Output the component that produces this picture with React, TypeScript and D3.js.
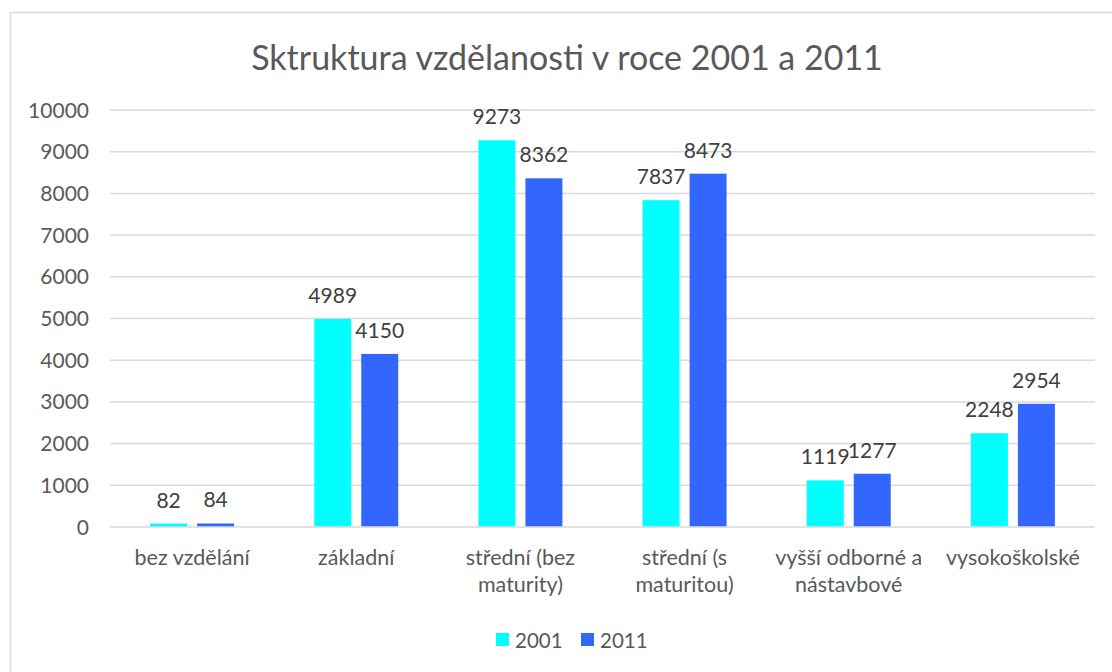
import React, { useEffect, useRef } from "react";
import * as d3 from "d3";

const categories = [
  "bez vzdělání",
  "základní",
  "střední (bez maturity)",
  "střední (s maturitou)",
  "vyšší odborné a nástavbové",
  "vysokoškolské",
];
const seriesNames = ["2001", "2011"];
const values2001 = [82, 4989, 9273, 7837, 1119, 2248];
const values2011 = [84, 4150, 8362, 8473, 1277, 2954];
const yTicks = [0, 1000, 2000, 3000, 4000, 5000, 6000, 7000, 8000, 9000, 10000];
const colors = ["#00FFFF", "#3366FF"];

const title = "Sktruktura vzdělanosti v roce 2001 a 2011";
const FONT = "Lato, 'Open Sans', sans-serif";
const TEXT = "#595959";

function wrap(sel: any, width: number) {
  sel.each(function (this: SVGTextElement) {
    const text = d3.select(this);
    const words = text.text().split(/\s+/);
    const x = text.attr("x");
    const y = text.attr("y");
    text.text(null);
    let line: string[] = [];
    let lineNo = 0;
    let tspan = text.append("tspan").attr("x", x).attr("y", y);
    words.forEach((w) => {
      line.push(w);
      tspan.text(line.join(" "));
      if ((tspan.node() as SVGTSpanElement).getComputedTextLength() > width && line.length > 1) {
        line.pop();
        tspan.text(line.join(" "));
        line = [w];
        lineNo++;
        tspan = text
          .append("tspan")
          .attr("x", x)
          .attr("y", +y + lineNo * 27)
          .text(w);
      }
    });
  });
}

const App = () => {
  const ref = useRef<SVGSVGElement>(null);

  useEffect(() => {
    const width = 1112;
    const height = 672;
    const svg = d3.select(ref.current);
    svg.selectAll("*").remove();
    svg.attr("width", width).attr("height", height);

    svg
      .append("rect")
      .attr("x", 10.5)
      .attr("y", 12.5)
      .attr("width", 1120)
      .attr("height", 680)
      .attr("fill", "#fff")
      .attr("stroke", "#D9D9D9")
      .attr("stroke-width", 1.5);

    const x0 = d3.scaleBand().domain(categories).range([110, 1095]);
    const x1 = d3
      .scaleBand()
      .domain(seriesNames)
      .range([0, x0.bandwidth()])
      .paddingInner(0.213)
      .paddingOuter(0.853);
    const y = d3.scaleLinear().domain([0, 10000]).range([527, 110]);

    svg
      .append("text")
      .attr("x", 567)
      .attr("y", 70)
      .attr("text-anchor", "middle")
      .style("font-family", FONT)
      .style("font-size", "34px")
      .style("fill", TEXT)
      .text(title);

    // gridlines
    svg
      .append("g")
      .selectAll("line")
      .data(yTicks)
      .enter()
      .append("line")
      .attr("x1", 110)
      .attr("x2", 1095)
      .attr("y1", (d) => y(d))
      .attr("y2", (d) => y(d))
      .attr("stroke", "#D9D9D9")
      .attr("stroke-width", 1.5);

    svg
      .append("g")
      .selectAll("text")
      .data(yTicks)
      .enter()
      .append("text")
      .attr("x", 89)
      .attr("y", (d) => y(d))
      .attr("dy", "0.36em")
      .attr("text-anchor", "end")
      .style("font-family", FONT)
      .style("font-size", "21px")
      .style("fill", TEXT)
      .text((d) => d);

    const series = [values2001, values2011];
    const groups = svg
      .append("g")
      .selectAll("g")
      .data(categories)
      .enter()
      .append("g")
      .attr("transform", (d) => `translate(${x0(d)},0)`);

    groups
      .selectAll("rect")
      .data((_, i) => seriesNames.map((s, j) => ({ s, v: series[j][i], j })))
      .enter()
      .append("rect")
      .attr("x", (d) => x1(d.s)!)
      .attr("width", x1.bandwidth())
      .attr("y", (d) => y(d.v))
      .attr("height", (d) => y(0) - y(d.v) - 0.75)
      .attr("fill", (d) => colors[d.j]);

    groups
      .selectAll("text")
      .data((_, i) => seriesNames.map((s, j) => ({ s, v: series[j][i], j })))
      .enter()
      .append("text")
      .attr("x", (d) => x1(d.s)! + x1.bandwidth() / 2)
      .attr("y", (d) => y(d.v) - 16)
      .attr("text-anchor", "middle")
      .style("font-family", FONT)
      .style("font-size", "21px")
      .style("fill", "#404040")
      .text((d) => d.v);

    svg
      .append("g")
      .selectAll("text")
      .data(categories)
      .enter()
      .append("text")
      .attr("x", (d) => x0(d)! + x0.bandwidth() / 2)
      .attr("y", 565)
      .attr("text-anchor", "middle")
      .style("font-family", FONT)
      .style("font-size", "21.5px")
      .style("fill", TEXT)
      .text((d) => d)
      .call(wrap, 160);

    const legend = svg
      .append("g")
      .selectAll("g")
      .data(seriesNames)
      .enter()
      .append("g")
      .attr("transform", (_, i) => `translate(${496 + i * 85},0)`);
    legend
      .append("rect")
      .attr("x", 0)
      .attr("y", 633)
      .attr("width", 13)
      .attr("height", 13)
      .attr("fill", (_, i) => colors[i]);
    legend
      .append("text")
      .attr("x", 19)
      .attr("y", 648)
      .style("font-family", FONT)
      .style("font-size", "20.5px")
      .style("fill", TEXT)
      .text((d) => d);
  }, []);

  return (
    <div>
      <svg ref={ref} style={{ position: "absolute", left: 0, top: 0 }}></svg>
    </div>
  );
};

export default App;
